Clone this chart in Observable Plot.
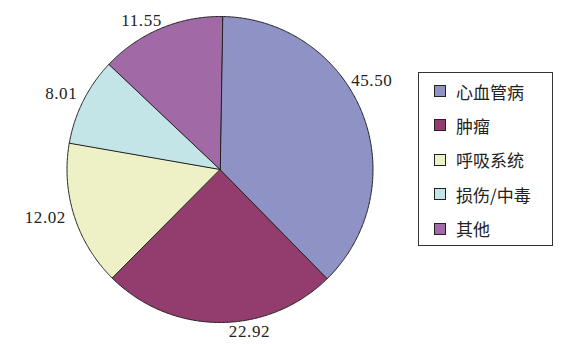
<!DOCTYPE html>
<html>
<head>
<meta charset="utf-8">
<script src="https://cdn.jsdelivr.net/npm/d3@7"></script>
<script src="https://cdn.jsdelivr.net/npm/@observablehq/plot@0.6"></script>
<style>
  html, body { margin: 0; padding: 0; background: #fff; }
  #wrap { position: relative; width: 587px; height: 344px; overflow: hidden; }
  #legend {
    position: absolute; left: 418px; top: 72px; width: 133px; height: 172px;
    border: 1px solid #333; box-sizing: content-box; background: #fff;
    font-family: "Noto Sans CJK SC", sans-serif; font-size: 17px; color: #222;
  }
  .item { position: absolute; left: 15px; height: 20px; display: flex; align-items: center; }
  .sw { width: 10px; height: 10px; border: 1.6px solid #222; margin-right: 10px; }
  svg text { letter-spacing: 0.6px; }
</style>
</head>
<body>
<div id="wrap"><div id="chart"></div><div id="legend"></div></div>
<script>
// Data
const categories = ["心血管病", "肿瘤", "呼吸系统", "损伤/中毒", "其他"];
const values = [45.50, 22.92, 12.02, 8.01, 11.55];          // printed labels
const shares = [37.4, 24.8, 15.3, 9.3, 13.2];               // slice sizes as drawn (% of circle)
const colors = ["#8e92c4", "#933c6e", "#eef0c6", "#c3e5e8", "#a16aa6"];

// Layout
const W = 587, H = 344, CX = 219.5, CY = 169, R = 153;
const startDeg = 0.9;
// label placement: angular nudge from slice mid-angle (deg) and radius factor
const labelNudge = [-8.6, -10.5, 2.3, -1.1, -4.9];
const labelRadius = [1.15, 1.076, 1.184, 1.15, 1.10];

const total = d3.sum(shares);
let acc = 0;
const slices = categories.map((c, i) => {
  const a0 = (startDeg + acc / total * 360) * Math.PI / 180;
  acc += shares[i];
  const a1 = (startDeg + acc / total * 360) * Math.PI / 180;
  return {cat: c, value: values[i], a0, a1, i};
});

const polys = [];
for (const s of slices) {
  polys.push({cat: s.cat, x: 0, y: 0});
  const n = Math.max(2, Math.ceil((s.a1 - s.a0) / (Math.PI / 360)));
  for (let k = 0; k <= n; k++) {
    const a = s.a0 + (s.a1 - s.a0) * k / n;
    polys.push({cat: s.cat, x: Math.sin(a), y: Math.cos(a)});
  }
}

const labels = slices.map(s => {
  const m = (s.a0 + s.a1) / 2 + labelNudge[s.i] * Math.PI / 180;
  const r = labelRadius[s.i];
  return {cat: s.cat, text: s.value.toFixed(2), x: r * Math.sin(m), y: r * Math.cos(m)};
});

const chart = Plot.plot({
  width: W, height: H,
  margin: 0,
  x: {domain: [-1, 1], range: [CX - R, CX + R], axis: null},
  y: {domain: [-1, 1], range: [CY + R, CY - R], axis: null},
  color: {domain: categories, range: colors},
  style: {background: "#fff"},
  marks: [
    Plot.line(polys, {x: "x", y: "y", z: "cat", fill: "cat", stroke: "#222", strokeWidth: 1, curve: "linear-closed"}),
    Plot.text(labels, {x: "x", y: "y", text: "text", fill: "#222", fontSize: 17,
      fontFamily: "Liberation Serif, DejaVu Serif, serif", textAnchor: "middle", lineAnchor: "middle"})
  ]
});
document.getElementById("chart").appendChild(chart);

// Legend
const lg = document.getElementById("legend");
const rowTop = 8, rowGap = 34.4;
categories.forEach((c, i) => {
  const it = document.createElement("div");
  it.className = "item";
  it.style.top = (rowTop + i * rowGap) + "px";
  it.innerHTML = `<span class="sw" style="background:${colors[i]}"></span><span>${c}</span>`;
  lg.appendChild(it);
});
</script>
</body>
</html>
